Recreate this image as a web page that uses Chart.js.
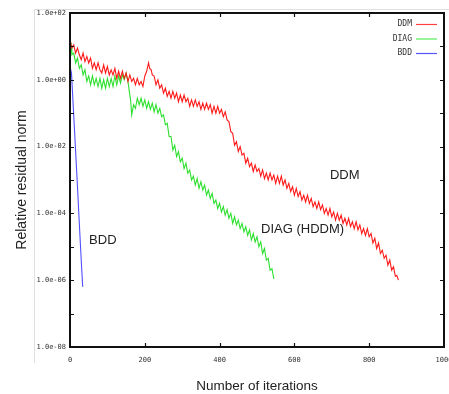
<!DOCTYPE html>
<html><head><meta charset="utf-8">
<script src="https://cdn.jsdelivr.net/npm/chart.js@4/dist/chart.umd.min.js"></script>
<style>html,body{margin:0;padding:0;background:#fff;}canvas{display:block}</style>
</head><body>
<canvas id="c" width="449" height="394"></canvas>
<script>
// ---- data ----
const seriesNames = ['DDM', 'DIAG', 'BDD'];

const ddmIter = [0,5,10,15,20,25,30,35,40,45,50,55,60,65,70,75,80,85,90,95,100,105,110,115,120,125,130,135,140,145,150,155,160,165,170,175,180,185,190,195,200,
  205,210,213,217,220,
  225,230,235,240,245,250,255,260,265,270,275,280,285,290,295,300,305,310,315,320,325,330,335,340,345,350,355,360,365,370,375,380,385,390,395,400,
  405,410,415,420,425,430,435,440,445,450,455,460,465,470,475,480,485,490,495,500,505,510,515,520,525,530,535,540,545,550,555,560,565,570,575,580,
  585,590,595,600,605,610,615,620,625,630,635,640,645,650,655,660,665,670,675,680,685,690,695,700,705,710,715,720,725,730,735,740,745,750,755,760,
  765,770,775,780,785,790,795,800,805,810,815,820,825,830,835,840,845,850,855,860,865,870,874,878];
const ddmResidual = [1.6e1,8.9e0,1.1e1,6.3e0,8.9e0,5.6e0,4.0e0,6.3e0,3.5e0,5.0e0,3.2e0,4.5e0,2.2e0,3.2e0,2.0e0,3.2e0,2.0e0,1.6e0,2.8e0,1.6e0,2.5e0,1.4e0,2.0e0,1.4e0,2.2e0,1.1e0,1.8e0,1.1e0,1.8e0,1.1e0,1.6e0,8.9e-1,1.4e0,8.9e-1,1.1e0,7.1e-1,1.1e0,7.1e-1,8.9e-1,6.3e-1,1.3e0,
  1.8e0,3.2e0,2.2e0,2.0e0,1.4e0,
  1.3e0,7.1e-1,1.0e0,5.6e-1,7.1e-1,4.0e-1,5.6e-1,3.2e-1,4.5e-1,2.8e-1,4.5e-1,2.8e-1,4.0e-1,2.2e-1,3.5e-1,2.2e-1,3.5e-1,2.2e-1,2.8e-1,1.6e-1,2.5e-1,1.6e-1,2.5e-1,1.6e-1,2.2e-1,1.3e-1,2.0e-1,1.3e-1,2.0e-1,1.3e-1,1.8e-1,1.0e-1,1.6e-1,1.0e-1,1.6e-1,1.0e-1,
  1.3e-1,7.9e-2,1.1e-1,6.3e-2,5.6e-2,2.8e-2,2.5e-2,1.1e-2,1.4e-2,7.1e-3,1.0e-2,5.6e-3,6.3e-3,3.2e-3,4.5e-3,2.5e-3,3.2e-3,1.8e-3,2.8e-3,1.8e-3,2.2e-3,1.3e-3,2.0e-3,1.1e-3,1.6e-3,1.0e-3,1.6e-3,1.0e-3,1.4e-3,7.9e-4,1.3e-3,7.9e-4,1.3e-3,7.1e-4,1.0e-3,5.6e-4,
  7.9e-4,4.5e-4,6.3e-4,3.5e-4,5.6e-4,3.2e-4,4.5e-4,2.5e-4,3.5e-4,2.2e-4,3.5e-4,2.0e-4,2.8e-4,1.6e-4,2.2e-4,1.4e-4,2.2e-4,1.3e-4,1.8e-4,1.0e-4,1.4e-4,8.9e-5,1.4e-4,7.9e-5,1.1e-4,6.3e-5,1.0e-4,6.3e-5,8.9e-5,5.0e-5,7.1e-5,4.5e-5,7.1e-5,4.0e-5,5.6e-5,3.5e-5,
  5.6e-5,3.2e-5,4.5e-5,2.5e-5,3.5e-5,2.2e-5,3.5e-5,2.0e-5,2.5e-5,1.3e-5,1.8e-5,8.9e-6,1.3e-5,6.3e-6,7.9e-6,4.5e-6,5.6e-6,2.8e-6,4.0e-6,2.0e-6,2.5e-6,1.3e-6,1.4e-6,1.0e-6];

const diagIter = [0,3,5,10,15,20,25,30,35,40,45,50,55,60,65,70,75,80,85,90,95,100,105,110,115,120,125,130,135,140,145,150,
  155,158,162,165,
  170,175,180,185,190,195,200,205,210,215,220,225,230,235,240,245,250,255,260,265,270,275,280,285,290,295,300,305,310,315,320,325,330,335,340,345,350,355,
  360,365,370,375,380,385,390,395,400,405,410,415,420,425,430,435,440,445,450,455,460,465,470,475,480,485,490,495,500,505,510,515,520,525,530,535,540,545];
const diagResidual = [7.9e0,1.1e1,5.6e0,6.3e0,3.2e0,4.5e0,2.2e0,2.8e0,1.4e0,2.0e0,8.9e-1,1.3e0,7.1e-1,1.3e0,7.1e-1,1.1e0,6.3e-1,1.1e0,5.6e-1,1.0e0,5.6e-1,1.1e0,6.3e-1,1.1e0,6.3e-1,1.3e0,7.1e-1,1.3e0,7.9e-1,1.4e0,1.0e0,1.6e0,
  8.9e-1,5.0e-1,2.5e-1,8.9e-2,
  1.8e-1,1.4e-1,2.8e-1,1.8e-1,2.8e-1,1.6e-1,2.5e-1,1.4e-1,2.2e-1,1.3e-1,2.0e-1,1.1e-1,1.8e-1,1.0e-1,1.4e-1,7.9e-2,8.9e-2,4.5e-2,5.0e-2,2.0e-2,2.0e-2,7.9e-3,1.1e-2,5.0e-3,7.1e-3,3.5e-3,4.5e-3,2.2e-3,3.2e-3,1.6e-3,2.0e-3,1.0e-3,1.3e-3,7.1e-4,1.1e-3,5.6e-4,8.9e-4,5.0e-4,
  7.1e-4,3.5e-4,5.0e-4,2.8e-4,4.0e-4,2.0e-4,2.5e-4,1.4e-4,2.0e-4,1.1e-4,1.6e-4,8.9e-5,1.3e-4,7.1e-5,1.0e-4,5.0e-5,7.9e-5,4.5e-5,6.3e-5,3.5e-5,5.0e-5,2.8e-5,4.0e-5,2.2e-5,3.2e-5,1.6e-5,2.5e-5,1.4e-5,2.0e-5,1.0e-5,1.4e-5,6.3e-6,8.9e-6,4.0e-6,4.5e-6,2.0e-6,2.2e-6,1.1e-6];

const bddIter = [0,2,4,8,12,16,20,24,28,31,34];
const bddResidual = [1.3e0,2.0e0,1.6e0,2.2e-1,3.2e-2,4.5e-3,6.3e-4,7.9e-5,1.1e-5,2.5e-6,6.3e-7];

const xTickValues = [0,200,400,600,800,1000];
const yTickExponents = [2,1,0,-1,-2,-3,-4,-5,-6,-7,-8];

const annotationTexts = ['DDM', 'DIAG (HDDM)', 'BDD'];
const annotationIter = [695, 511, 51];
const annotationResidual = [1.4e-3, 3.4e-5, 1.5e-5];

// ---- styles ----
const colors = ['#ff1a1a', '#2ee02e', '#5050ff'];
const legendColors = ['#ff4040', '#55ee55', '#5555ff'];
const monoFont = '"DejaVu Sans Mono", monospace';
const sansFont = '"Liberation Sans", Arial, sans-serif';

function fmtExp(e) {
  return '1.0e' + (e >= 0 ? '+' : '-') + String(Math.abs(e)).padStart(2, '0');
}
function pts(xs, ys) { return xs.map((x, i) => ({x: x, y: ys[i]})); }

const decorPlugin = {
  id: 'decor',
  beforeDraw(chart) {
    const ctx = chart.ctx;
    ctx.save();
    ctx.fillStyle = '#fff';
    ctx.fillRect(0, 0, chart.width, chart.height);
    ctx.strokeStyle = '#e0e0e0';
    ctx.lineWidth = 1;
    ctx.beginPath();
    ctx.moveTo(34.5, 363);
    ctx.lineTo(34.5, 9.5);
    ctx.lineTo(449, 9.5);
    ctx.stroke();
    ctx.restore();
  },
  afterDatasetsDraw(chart) {
    const ctx = chart.ctx;
    const a = chart.chartArea;
    const xs = chart.scales.x, ys = chart.scales.y;
    ctx.save();
    ctx.strokeStyle = '#111';
    ctx.lineWidth = 2;
    ctx.strokeRect(a.left, a.top, a.right - a.left, a.bottom - a.top);
    ctx.lineWidth = 1.2;
    ctx.beginPath();
    ys.ticks.forEach(t => {
      const py = Math.round(ys.getPixelForValue(t.value)) + 0.5;
      ctx.moveTo(a.left, py); ctx.lineTo(a.left + 4, py);
      ctx.moveTo(a.right, py); ctx.lineTo(a.right - 4, py);
    });
    xs.ticks.forEach(t => {
      if (t.value <= xs.min || t.value >= xs.max) return;
      const px = Math.round(xs.getPixelForValue(t.value)) + 0.5;
      ctx.moveTo(px, a.bottom); ctx.lineTo(px, a.bottom - 4);
      ctx.moveTo(px, a.top); ctx.lineTo(px, a.top + 4);
    });
    ctx.stroke();
    ctx.font = '8px ' + monoFont;
    ctx.textAlign = 'right';
    ctx.textBaseline = 'middle';
    chart.data.datasets.forEach((ds, i) => {
      const y = 24 + i * 14.5;
      ctx.fillStyle = '#333';
      ctx.fillText(ds.label, 412, y);
      ctx.strokeStyle = legendColors[i];
      ctx.lineWidth = 1.2;
      ctx.beginPath();
      ctx.moveTo(416, y + 0.5); ctx.lineTo(437, y + 0.5);
      ctx.stroke();
    });
    ctx.font = '13px ' + sansFont;
    ctx.fillStyle = '#222';
    ctx.textAlign = 'left';
    annotationTexts.forEach((txt, i) => {
      ctx.fillText(txt, xs.getPixelForValue(annotationIter[i]), ys.getPixelForValue(annotationResidual[i]));
    });
    ctx.restore();
  }
};

new Chart(document.getElementById('c'), {
  type: 'line',
  data: {
    datasets: [
      {label: seriesNames[0], data: pts(ddmIter, ddmResidual), borderColor: colors[0]},
      {label: seriesNames[1], data: pts(diagIter, diagResidual), borderColor: colors[1]},
      {label: seriesNames[2], data: pts(bddIter, bddResidual), borderColor: colors[2]}
    ].map(d => Object.assign(d, {borderWidth: 1.1, pointRadius: 0, tension: 0, fill: false}))
  },
  options: {
    responsive: false,
    animation: false,
    events: [],
    layout: {padding: {left: 0, top: 13, right: 5, bottom: 0}},
    plugins: {legend: {display: false}, tooltip: {enabled: false}},
    scales: {
      x: {
        type: 'linear', min: 0, max: 1000,
        afterBuildTicks(s) { s.ticks = xTickValues.map(v => ({value: v})); },
        afterFit(s) { s.height = 47; s.paddingLeft = 0; s.paddingRight = 0; },
        grid: {display: false, drawTicks: false},
        border: {display: false},
        ticks: {padding: 9, maxRotation: 0, autoSkip: false, color: '#333',
                font: {family: monoFont, size: 7}, callback: v => String(v)},
        title: {display: true, text: 'Number of iterations', color: '#222',
                font: {family: sansFont, size: 13.5}, padding: {top: 0, bottom: 0}}
      },
      y: {
        type: 'logarithmic', min: 1e-8, max: 1e2,
        afterBuildTicks(s) { s.ticks = yTickExponents.map(e => ({value: Math.pow(10, e)})); },
        afterFit(s) { s.width = 70; s.paddingTop = 0; s.paddingBottom = 0; },
        grid: {display: false, drawTicks: false},
        border: {display: false},
        ticks: {padding: 4, autoSkip: false, color: '#333',
                font: {family: monoFont, size: 7},
                callback: v => { const e = Math.round(Math.log10(v)); return e % 2 === 0 ? fmtExp(e) : ''; }},
        title: {display: true, text: 'Relative residual norm', color: '#222',
                font: {family: sansFont, size: 14}, padding: {top: 14, bottom: 0}}
      }
    }
  },
  plugins: [decorPlugin]
});
</script>
</body></html>
